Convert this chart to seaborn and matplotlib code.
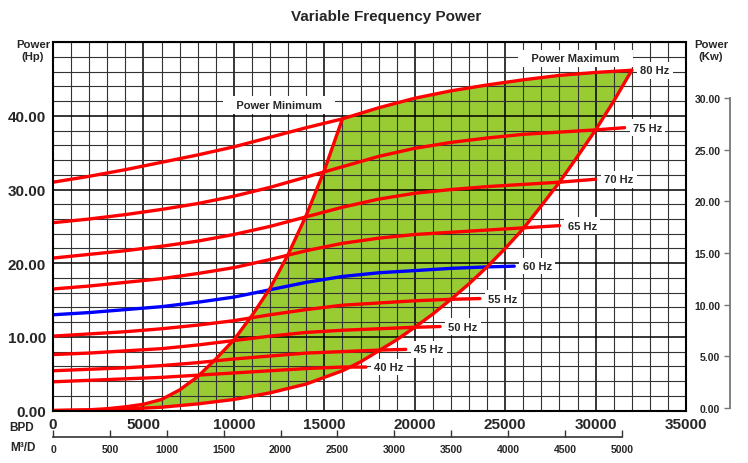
import numpy as np
import matplotlib
matplotlib.use("Agg")
import matplotlib.pyplot as plt
from matplotlib.ticker import MultipleLocator, FormatStrFormatter
import seaborn as sns

# ── Curve data (BPD vs Hp) ──────────────────────────────────────────────────
HZ40_X = [0, 2000, 4000, 6000, 8000, 10000, 12000, 14000, 16000, 17300]
HZ40_Y = [3.9, 4.1, 4.3, 4.5, 4.8, 5.1, 5.4, 5.7, 5.9, 5.9]
HZ45_X = [0, 2000, 4000, 6000, 8000, 10000, 12000, 14000, 16000, 18000, 19500]
HZ45_Y = [5.4, 5.6, 5.8, 6.1, 6.5, 7.0, 7.4, 7.8, 8.0, 8.2, 8.3]
HZ50_X = [0, 2000, 4000, 6000, 8000, 10000, 12000, 14000, 16000, 18000, 20000, 21400]
HZ50_Y = [7.6, 7.8, 8.1, 8.4, 8.9, 9.5, 10.1, 10.6, 10.9, 11.1, 11.3, 11.4]
HZ55_X = [0, 2000, 4000, 6000, 8000, 10000, 12000, 14000, 16000, 18000, 20000, 22000, 23600]
HZ55_Y = [10.1, 10.4, 10.7, 11.1, 11.6, 12.2, 13.0, 13.7, 14.3, 14.6, 14.9, 15.1, 15.2]
HZ60_X = [0, 2000, 4000, 6000, 8000, 10000, 12000, 14000, 16000, 18000, 20000, 22000, 24000, 25500]
HZ60_Y = [13.0, 13.3, 13.7, 14.1, 14.7, 15.4, 16.4, 17.4, 18.2, 18.7, 19.0, 19.3, 19.5, 19.6]
HZ65_X = [0, 2000, 4000, 6000, 8000, 10000, 12000, 14000, 16000, 18000, 20000, 22000, 24000, 26000, 28000]
HZ65_Y = [16.5, 16.9, 17.4, 17.9, 18.6, 19.4, 20.5, 21.7, 22.7, 23.4, 23.9, 24.2, 24.5, 24.8, 25.1]
HZ70_X = [0, 2000, 4000, 6000, 8000, 10000, 12000, 14000, 16000, 18000, 20000, 22000, 24000, 26000, 28000, 30000]
HZ70_Y = [20.7, 21.2, 21.7, 22.3, 23.0, 23.9, 25.0, 26.3, 27.6, 28.7, 29.5, 30.0, 30.4, 30.7, 31.0, 31.4]
HZ75_X = [0, 2000, 4000, 6000, 8000, 10000, 12000, 14000, 16000, 18000, 20000, 22000, 24000, 26000, 28000, 30000, 31600]
HZ75_Y = [25.5, 26.0, 26.6, 27.3, 28.1, 29.1, 30.3, 31.7, 33.1, 34.5, 35.6, 36.4, 37.0, 37.5, 37.8, 38.1, 38.4]
HZ80_X = [0, 2000, 4000, 6000, 8000, 10000, 12000, 14000, 16000, 18000, 20000, 22000, 24000, 26000, 28000, 30000, 32000]
HZ80_Y = [31.0, 31.8, 32.7, 33.7, 34.7, 35.8, 37.1, 38.4, 39.6, 41.1, 42.4, 43.4, 44.2, 44.9, 45.5, 45.9, 46.2]

# boundaries of the recommended operating range
MIN_X = [0, 2000, 3000, 4000, 5000, 6000, 7000, 8000, 9000, 10000, 11000, 12000, 13000, 14000, 15000, 16000]
MIN_Y = [0, 0.1, 0.25, 0.5, 0.85, 1.5, 2.8, 4.6, 7.0, 9.6, 12.9, 16.6, 21.2, 26.5, 32.6, 39.6]
MAX_X = [0, 2000, 4000, 6000, 8000, 10000, 12000, 14000, 16000, 17000, 18000, 19000, 20000,
         21000, 22000, 23000, 24000, 25000, 26000, 27000, 28000, 29000, 30000, 31000, 32000]
MAX_Y = [0, 0.05, 0.2, 0.45, 0.9, 1.5, 2.4, 3.6, 5.4, 6.6, 8.1, 9.6, 11.3,
         13.1, 15.1, 17.2, 19.5, 22.0, 24.7, 27.8, 31.0, 34.5, 38.1, 42.0, 46.2]

BPD_TICKS = [0, 5000, 10000, 15000, 20000, 25000, 30000, 35000]
HP_TICKS = [0, 10, 20, 30, 40]
KW_TICKS = [0, 5, 10, 15, 20, 25, 30]
M3_TICKS = [0, 500, 1000, 1500, 2000, 2500, 3000, 3500, 4000, 4500, 5000]
BPD_PER_M3 = 6.2898

RED = "#FF0000"
BLUE = "#0000FF"
GREEN = "#99CC33"

sns.set_theme(style="white")
plt.rcParams["font.family"] = ["Liberation Sans", "DejaVu Sans"]
plt.rcParams["font.weight"] = "bold"

fig = plt.figure(figsize=(7.48, 4.64), dpi=100)
ax = fig.add_axes([0.0709, 0.1131, 0.8463, 0.7937])

# green operating window: min curve, 80 Hz top, max curve back down
top_x = [x for x in HZ80_X if x > MIN_X[-1]]
top_y = [y for x, y in zip(HZ80_X, HZ80_Y) if x > MIN_X[-1]]
poly_x = np.concatenate([MIN_X, top_x, MAX_X[::-1]])
poly_y = np.concatenate([MIN_Y, top_y, MAX_Y[::-1]])
ax.fill(poly_x, poly_y, color=GREEN, lw=0, zorder=0.2)

curves = [
    ("40 Hz", HZ40_X, HZ40_Y, RED),
    ("45 Hz", HZ45_X, HZ45_Y, RED),
    ("50 Hz", HZ50_X, HZ50_Y, RED),
    ("55 Hz", HZ55_X, HZ55_Y, RED),
    ("60 Hz", HZ60_X, HZ60_Y, BLUE),
    ("65 Hz", HZ65_X, HZ65_Y, RED),
    ("70 Hz", HZ70_X, HZ70_Y, RED),
    ("75 Hz", HZ75_X, HZ75_Y, RED),
    ("80 Hz", HZ80_X, HZ80_Y, RED),
]
for label, xs, ys, color in curves:
    sns.lineplot(x=xs, y=ys, ax=ax, color=color, lw=2.4,
                 estimator=None, sort=False)
    ax.annotate(label, (xs[-1], ys[-1]), xytext=(6, 0), textcoords="offset points",
                ha="left", va="center", fontsize=8, zorder=4,
                bbox=dict(boxstyle="square,pad=0.3", fc="white", ec="none"))

sns.lineplot(x=MIN_X, y=MIN_Y, ax=ax, color=RED, lw=2.4, estimator=None, sort=False)
sns.lineplot(x=MAX_X, y=MAX_Y, ax=ax, color=RED, lw=2.4, estimator=None, sort=False)

ax.text(12500, 41.5, "   Power Minimum   ", ha="center", va="center", fontsize=8,
        bbox=dict(boxstyle="square,pad=0.35", fc="white", ec="none"), zorder=4)
ax.text(28900, 47.8, "   Power Maximum   ", ha="center", va="center", fontsize=8,
        bbox=dict(boxstyle="square,pad=0.35", fc="white", ec="none"), zorder=4)

# ── axes / grid ──────────────────────────────────────────────────────────────
ax.set_xlim(0, 35000)
ax.set_ylim(0, 50)
ax.set_xticks(BPD_TICKS)
ax.set_yticks(HP_TICKS)
ax.xaxis.set_minor_locator(MultipleLocator(1000))
ax.yaxis.set_minor_locator(MultipleLocator(2))
ax.yaxis.set_major_formatter(FormatStrFormatter("%.2f"))
ax.set_axisbelow(True)
ax.grid(which="minor", color="#333333", lw=0.8)
ax.grid(which="major", color="black", lw=1.1)
ax.tick_params(which="both", length=0)
ax.tick_params(axis="x", labelsize=11, pad=5)
ax.tick_params(axis="y", labelsize=11, pad=5)
for s in ax.spines.values():
    s.set_color("black")
    s.set_linewidth(1.5)
ax.set_xlabel("")
ax.set_ylabel("")

# right-hand kW scale
ax2 = ax.twinx()
ax2.set_ylim(-0.24, 35.4)
ax2.yaxis.set_ticks_position("left")
ax2.yaxis.set_label_position("left")
for s in ["top", "right", "bottom"]:
    ax2.spines[s].set_visible(False)
ax2.spines["left"].set_visible(True)
ax2.spines["left"].set_position(("axes", 1.0695))
ax2.spines["left"].set_bounds(0, 30)
ax2.spines["left"].set_color("#777777")
ax2.spines["left"].set_linewidth(1.3)
ax2.set_yticks(KW_TICKS)
ax2.yaxis.set_major_formatter(FormatStrFormatter("%.2f"))
ax2.tick_params(axis="y", direction="out", length=4, width=1, color="#777777",
                pad=3, labelsize=7.5)
ax2.grid(False)

# M3/D scale under the BPD labels
sec = ax.secondary_xaxis(-0.0707, functions=(lambda b: b / BPD_PER_M3,
                                              lambda m: m * BPD_PER_M3))
sec.set_xticks(M3_TICKS)
sec.tick_params(axis="x", direction="in", length=5, width=1, pad=5, labelsize=7.5,
                color="#333333")
sec.spines["bottom"].set_bounds(0, 5000)
sec.spines["bottom"].set_color("#333333")
sec.spines["bottom"].set_linewidth(1.2)

# ── figure texts ─────────────────────────────────────────────────────────────
fig.text(386 / 748, 1 - 17 / 464, "Variable Frequency Power", ha="center", va="center",
         fontsize=11)
fig.text(33 / 748, 1 - 51 / 464, "Power\n(Hp)", ha="center", va="center", fontsize=8.2)
fig.text(711 / 748, 1 - 51 / 464, "Power\n(Kw)", ha="center", va="center", fontsize=8.2)
fig.text(22 / 748, 1 - 428 / 464, "BPD", ha="center", va="center", fontsize=8.5)
fig.text(23 / 748, 1 - 448 / 464, "M³/D", ha="center", va="center", fontsize=8.5)

fig.savefig("out.png", dpi=100)
plt.close(fig)
